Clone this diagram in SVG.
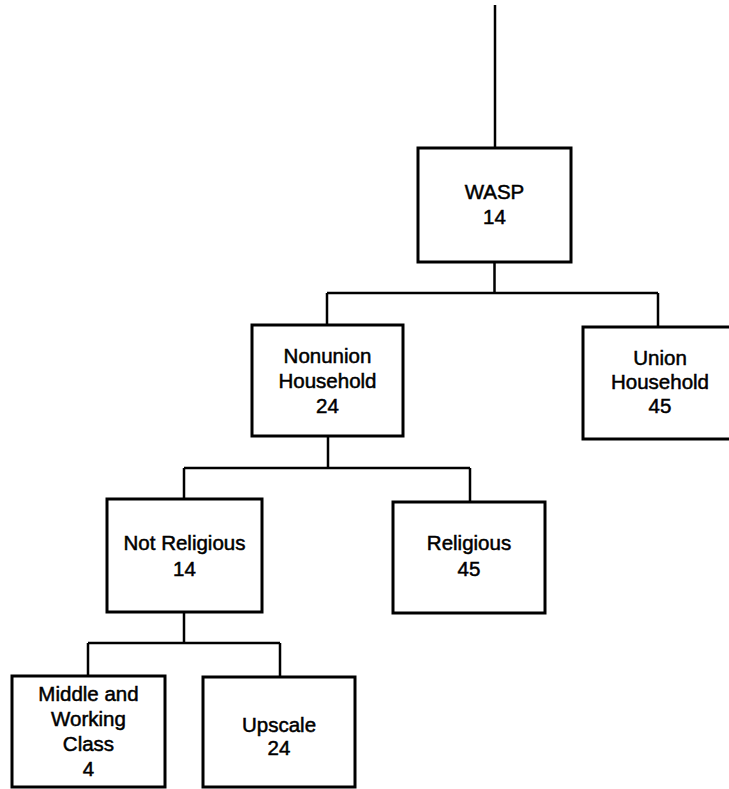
<svg xmlns="http://www.w3.org/2000/svg" width="729" height="789" viewBox="0 0 729 789">
<style>
.box{fill:#fff;stroke:#000;stroke-width:3}
.con{fill:none;stroke:#000;stroke-width:2.5}
text{font-family:"Liberation Sans",Arial,sans-serif;font-size:20.5px;fill:#000;stroke:#000;stroke-width:0.5;text-anchor:middle}
</style>
<rect width="729" height="789" fill="#fff"/>
<g id="connectors">
<path class="con" d="M495 5V148"/>
<path class="con" d="M494.5 262V293M327 293H658M327 293V325M658 293V327"/>
<path class="con" d="M328 436V468M184 468H470M184 468V499M470 468V502"/>
<path class="con" d="M184 612V643M88 643H280M88 643V676M280 643V677"/>
</g>
<g id="wasp">
<rect class="box" x="418" y="148" width="153" height="114"/>
<text x="494.5" y="199">WASP</text>
<text x="494.5" y="224">14</text>
</g>
<g id="nonunion">
<rect class="box" x="252" y="325" width="151" height="111"/>
<text x="327.5" y="363">Nonunion</text>
<text x="327.5" y="388">Household</text>
<text x="327.5" y="413">24</text>
</g>
<g id="union">
<rect class="box" x="583" y="327" width="152" height="112"/>
<text x="660" y="365">Union</text>
<text x="660" y="389">Household</text>
<text x="660" y="413">45</text>
</g>
<g id="notreligious">
<rect class="box" x="107" y="499" width="155" height="113"/>
<text x="184.5" y="550">Not Religious</text>
<text x="184.5" y="576">14</text>
</g>
<g id="religious">
<rect class="box" x="393" y="502" width="152" height="111"/>
<text x="469" y="550">Religious</text>
<text x="469" y="576">45</text>
</g>
<g id="middle">
<rect class="box" x="12" y="676" width="153" height="111"/>
<text x="88.5" y="701">Middle and</text>
<text x="88.5" y="726">Working</text>
<text x="88.5" y="751">Class</text>
<text x="88.5" y="776">4</text>
</g>
<g id="upscale">
<rect class="box" x="203" y="677" width="152" height="110"/>
<text x="279" y="732">Upscale</text>
<text x="279" y="755">24</text>
</g>
</svg>
